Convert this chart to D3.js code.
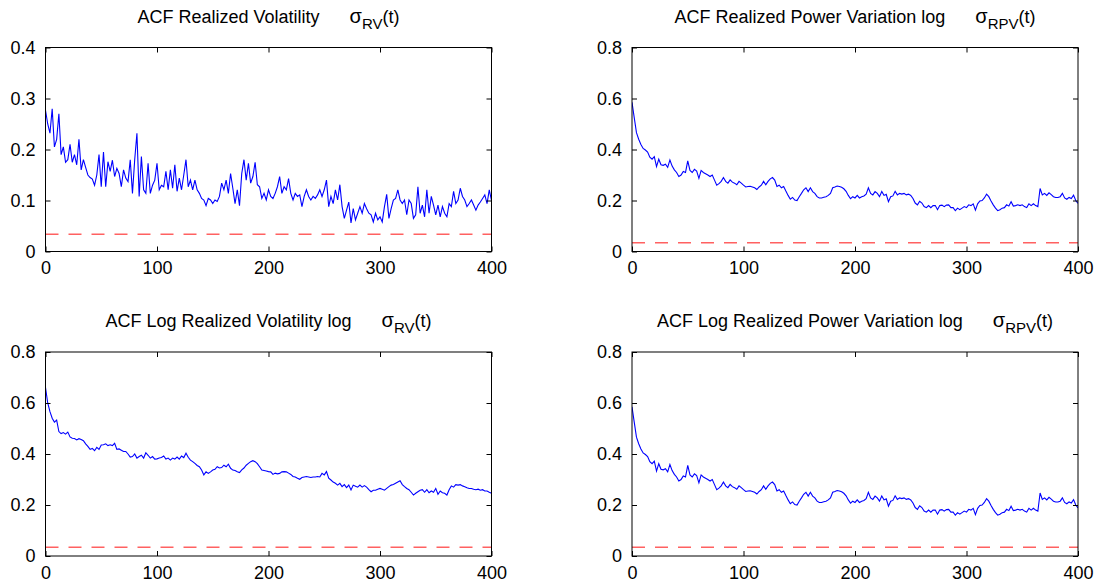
<!DOCTYPE html>
<html lang="en">
<head>
    <meta charset="UTF-8">
    <title>ACF panels</title>
    <script src="https://d3js.org/d3.v7.min.js"></script>
    <style>
        body { margin: 0; background: #fff; }
        svg { display: block; font-family: "Liberation Sans", Arial, sans-serif; }
        .tick text { font-size: 18px; fill: #000; }
        .tick line { stroke: #000; }
    </style>
</head>
<body>
<script>
    var w = 1099;
    var h = 588;

    // lags are every 2nd lag from 0 to 400
    var lags = d3.range(0, 401, 2);

    // ACF realized volatility
    var rvAcf = [
        .277,.25,.232,.28,.205,.22,.27,.19,.205,.175,.18,.21,.175,.19,.17,.22,.16,.18,.165,.15,
        .145,.142,.13,.15,.19,.127,.195,.127,.176,.157,.179,.147,.163,.153,.127,.16,.144,.137,.18,.114,
        .18,.232,.108,.186,.121,.114,.173,.114,.13,.14,.173,.121,.13,.127,.157,.121,.16,.124,.17,.118,
        .144,.121,.15,.18,.127,.14,.121,.14,.121,.114,.104,.101,.09,.104,.101,.094,.101,.098,.108,.134,
        .121,.14,.114,.153,.124,.094,.121,.09,.153,.18,.14,.173,.134,.147,.175,.131,.127,.104,.114,.101,
        .121,.108,.104,.114,.127,.147,.114,.127,.121,.143,.114,.101,.114,.108,.111,.088,.108,.121,.108,.101,
        .108,.104,.111,.121,.108,.121,.14,.088,.108,.094,.121,.101,.131,.088,.065,.081,.097,.056,.084,.062,
        .075,.088,.075,.094,.084,.075,.072,.058,.075,.062,.068,.058,.088,.112,.065,.084,.101,.104,.121,.101,
        .094,.101,.072,.101,.094,.065,.072,.127,.075,.091,.068,.121,.075,.108,.091,.072,.091,.068,.088,.075,
        .068,.094,.088,.118,.094,.101,.124,.108,.101,.088,.094,.101,.091,.081,.091,.097,.104,.111,.094,.121,
        .1
    ];

    // ACF realized power variation log (same curve in both right panels)
    var rpvAcf = [
        .585,.525,.466,.44,.42,.404,.398,.39,.37,.362,.372,.333,.362,.34,.338,.342,.33,.359,.335,.32,
        .31,.294,.3,.314,.31,.355,.318,.31,.322,.315,.287,.318,.31,.305,.3,.294,.3,.28,.26,.266,
        .275,.29,.275,.268,.281,.272,.268,.262,.275,.268,.26,.253,.255,.256,.253,.25,.243,.253,.26,.275,
        .262,.275,.285,.29,.28,.255,.26,.25,.255,.237,.22,.205,.212,.202,.2,.215,.228,.242,.25,.235,
        .25,.235,.228,.215,.21,.21,.213,.215,.22,.228,.25,.253,.257,.255,.252,.246,.236,.22,.207,.215,
        .21,.22,.21,.215,.218,.225,.25,.228,.222,.235,.228,.215,.235,.22,.224,.195,.215,.218,.236,.222,
        .228,.225,.228,.222,.225,.22,.208,.19,.183,.197,.19,.176,.172,.18,.172,.18,.18,.164,.18,.182,
        .176,.182,.183,.172,.172,.16,.17,.164,.17,.176,.172,.183,.18,.187,.162,.187,.198,.2,.21,.225,
        .215,.198,.183,.17,.16,.164,.17,.172,.183,.178,.195,.178,.18,.183,.18,.183,.176,.172,.187,.18,
        .187,.18,.176,.247,.222,.228,.22,.23,.223,.215,.212,.212,.215,.228,.21,.205,.212,.208,.221,.2,
        .189
    ];

    // ACF log realized volatility log
    var logRvAcf = [
        .66,.6,.566,.54,.525,.533,.488,.48,.484,.478,.486,.467,.462,.461,.455,.46,.457,.452,.44,.43,
        .418,.422,.413,.426,.418,.435,.436,.44,.433,.436,.433,.442,.418,.42,.415,.41,.41,.4,.388,.39,
        .4,.384,.39,.395,.384,.405,.395,.384,.39,.38,.381,.384,.386,.392,.38,.384,.376,.384,.38,.388,
        .38,.392,.386,.403,.387,.376,.37,.363,.355,.35,.337,.318,.33,.324,.33,.337,.34,.35,.345,.347,
        .356,.35,.36,.344,.337,.335,.33,.327,.338,.345,.356,.363,.37,.374,.37,.362,.35,.337,.335,.333,
        .331,.33,.32,.325,.322,.324,.33,.331,.33,.325,.32,.312,.31,.305,.301,.308,.31,.312,.31,.308,
        .31,.31,.312,.31,.324,.318,.331,.305,.298,.29,.285,.278,.285,.272,.28,.268,.278,.259,.278,.274,
        .27,.278,.27,.276,.27,.26,.252,.258,.258,.262,.265,.262,.258,.265,.272,.278,.28,.285,.29,.295,
        .28,.272,.265,.26,.25,.239,.246,.252,.258,.26,.25,.26,.248,.255,.25,.265,.242,.255,.248,.246,
        .239,.26,.275,.27,.28,.278,.28,.275,.272,.268,.265,.265,.262,.26,.262,.258,.26,.255,.255,.25,
        .246
    ];

    // significance band level (dashed red)
    var bandLevel = 0.034;

    var xTicks = [0, 100, 200, 300, 400];
    var yTicksRv = [0, 0.1, 0.2, 0.3, 0.4];
    var yTicksLog = [0, 0.2, 0.4, 0.6, 0.8];

    var panels = [
        { title: "ACF Realized Volatility", sub: "RV", values: rvAcf, yMax: 0.4, yTicks: yTicksRv, left: 45.5, top: 47.5 },
        { title: "ACF Realized Power Variation log", sub: "RPV", values: rpvAcf, yMax: 0.8, yTicks: yTicksLog, left: 632, top: 47.5 },
        { title: "ACF Log Realized Volatility log", sub: "RV", values: logRvAcf, yMax: 0.8, yTicks: yTicksLog, left: 45.5, top: 352 },
        { title: "ACF Log Realized Power Variation log", sub: "RPV", values: rpvAcf, yMax: 0.8, yTicks: yTicksLog, left: 632, top: 352 }
    ];

    var pw = 446;
    var ph = 204;

    var svg = d3.select("body")
        .append("svg")
        .attr("width", w)
        .attr("height", h);

    panels.forEach(function(p, k) {
        var g = svg.append("g")
            .attr("transform", "translate(" + p.left + "," + p.top + ")");

        var xScale = d3.scaleLinear().domain([0, 400]).range([0, pw]);
        var yScale = d3.scaleLinear().domain([0, p.yMax]).range([ph, 0]);

        g.append("clipPath")
            .attr("id", "clip" + k)
            .append("rect")
            .attr("width", pw)
            .attr("height", ph);

        // dashed significance line
        g.append("path")
            .datum([0, 400])
            .attr("clip-path", "url(#clip" + k + ")")
            .attr("fill", "none")
            .attr("stroke", "#ff6161")
            .attr("stroke-width", 1.5)
            .attr("stroke-dasharray", "13,10")
            .attr("d", d3.line()
                .x(function(d) { return xScale(d); })
                .y(function() { return yScale(bandLevel); }));

        // acf line
        g.append("path")
            .datum(p.values)
            .attr("clip-path", "url(#clip" + k + ")")
            .attr("fill", "none")
            .attr("stroke", "#0000ff")
            .attr("stroke-width", 1.1)
            .attr("d", d3.line()
                .x(function(d, i) { return xScale(lags[i]); })
                .y(function(d) { return yScale(d); }));

        // axes with ticks pointing inwards, box all round
        g.append("g")
            .attr("transform", "translate(0," + ph + ")")
            .call(d3.axisBottom(xScale).tickValues(xTicks).tickSize(-5).tickSizeOuter(0).tickPadding(10));
        g.append("g")
            .call(d3.axisLeft(yScale).tickValues(p.yTicks).tickSize(-5).tickSizeOuter(0).tickPadding(10)
                .tickFormat(function(d) { return String(d); }));
        g.append("g")
            .call(d3.axisTop(xScale).tickValues(xTicks).tickSize(-5).tickSizeOuter(0).tickFormat(""));
        g.append("g")
            .attr("transform", "translate(" + pw + ",0)")
            .call(d3.axisRight(yScale).tickValues(p.yTicks).tickSize(-5).tickSizeOuter(0).tickFormat(""));

        g.selectAll(".domain").remove();
        g.selectAll(".tick text").attr("font-family", null).attr("font-size", null);

        g.append("rect")
            .attr("width", pw)
            .attr("height", ph)
            .attr("fill", "none")
            .attr("stroke", "#000")
            .attr("stroke-width", 1);

        // title with sigma and subscript
        var t = g.append("text")
            .attr("x", pw / 2)
            .attr("y", -25)
            .attr("text-anchor", "middle")
            .attr("font-size", 18)
            .attr("fill", "#000");
        t.append("tspan").text(p.title);
        t.append("tspan").attr("dx", 30).attr("font-size", 20).text("\u03c3");
        t.append("tspan").attr("dy", 6).attr("font-size", 15).text(p.sub);
        t.append("tspan").attr("dy", -6).text("(t)");
    });
</script>
</body>
</html>
